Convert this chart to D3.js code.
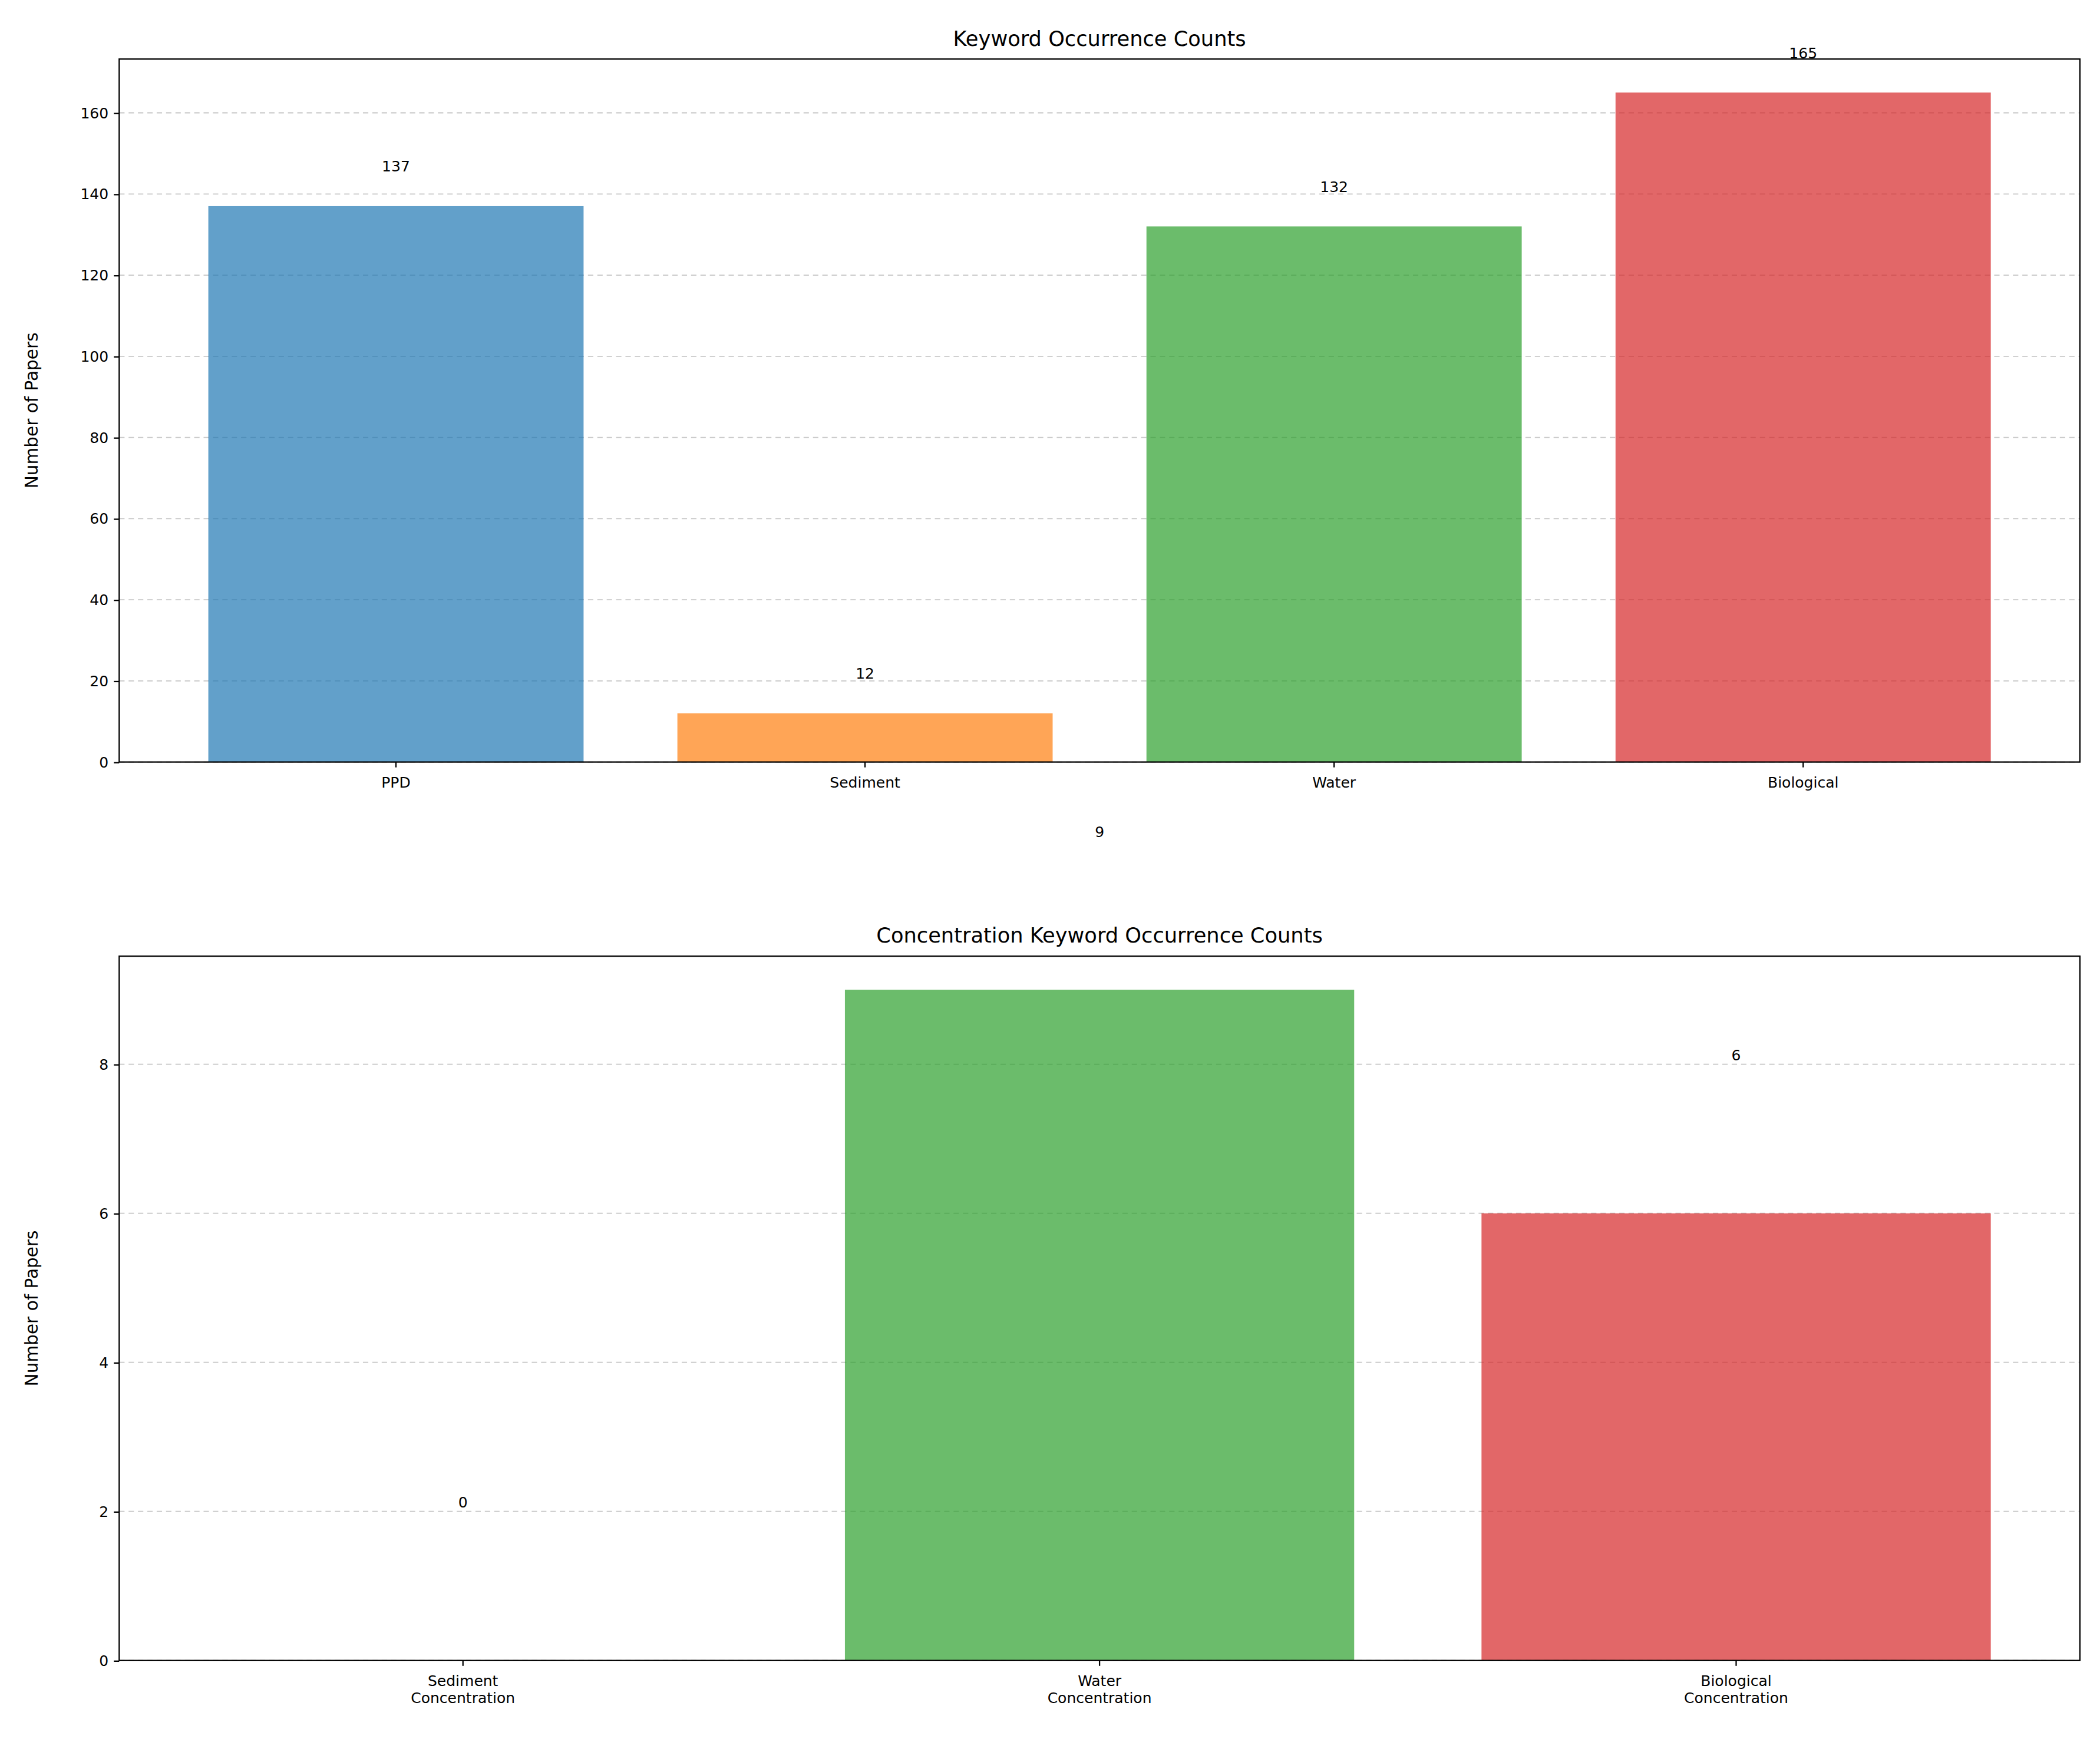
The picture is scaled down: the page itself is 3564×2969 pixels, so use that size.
<!DOCTYPE html>
<html>
<head>
<meta charset="UTF-8">
<script src="https://d3js.org/d3.v7.min.js"></script>
<style>
  body { margin: 0; background: #fff; }
  text { font-family: "DejaVu Sans", sans-serif; }
</style>
</head>
<body>
<div id="chart"></div>
<script>
// data
const topCats = ["PPD", "Sediment", "Water", "Biological"];
const topVals = [137, 12, 132, 165];
const topColors = ["#1f77b4", "#ff7f0e", "#2ca02c", "#d62728"];
const botCats = [["Sediment", "Concentration"], ["Water", "Concentration"], ["Biological", "Concentration"]];
const botVals = [0, 9, 6];
const botColors = ["#ff7f0e", "#2ca02c", "#d62728"];
const topTicks = [0, 20, 40, 60, 80, 100, 120, 140, 160];
const botTicks = [0, 2, 4, 6, 8];

const W = 1568, H = 1306;
const svg = d3.select("#chart").append("svg")
    .attr("width", 3564).attr("height", 2969)
    .attr("viewBox", `0 0 ${W} ${H}`);

const left = 89, right = 1553;

function panel(cats, vals, colors, ticks, y0, y1, title, yMax, labelOff) {
    const n = cats.length;
    const span = (n - 1 + 0.8);
    const x = d3.scaleLinear().domain([-0.4 - span * 0.05, n - 1 + 0.4 + span * 0.05]).range([left, right]);
    const y = d3.scaleLinear().domain([0, yMax]).range([y1, y0]);
    const g = svg.append("g");

    // grid
    g.selectAll(".grid").data(ticks).join("line")
        .attr("x1", left).attr("x2", right)
        .attr("y1", d => y(d)).attr("y2", d => y(d))
        .attr("stroke", "#b0b0b0").attr("stroke-width", 0.8)
        .attr("stroke-dasharray", "4,3").attr("opacity", 0.7);

    g.selectAll(".bar").data(vals).join("rect")
        .attr("x", (d, i) => x(i - 0.4))
        .attr("width", x(0.4) - x(-0.4))
        .attr("y", d => y(d))
        .attr("height", d => y1 - y(d))
        .attr("fill", (d, i) => colors[i])
        .attr("opacity", 0.7);

    g.selectAll(".val").data(vals).join("text")
        .attr("x", (d, i) => x(i))
        .attr("y", d => y(d + labelOff))
        .attr("text-anchor", "middle")
        .attr("font-size", 11)
        .text(d => d);

    g.append("rect").attr("x", left).attr("y", y0)
        .attr("width", right - left).attr("height", y1 - y0)
        .attr("fill", "none").attr("stroke", "#000").attr("stroke-width", 1);

    // y axis
    g.append("g").attr("transform", `translate(${left},0)`)
        .call(d3.axisLeft(y).tickValues(ticks).tickSize(4).tickPadding(4))
        .call(a => a.select(".domain").remove())
        .call(a => a.selectAll("text").attr("font-size", 11).attr("font-family", "DejaVu Sans"));

    // x axis
    const xa = g.append("g").attr("transform", `translate(0,${y1})`);
    cats.forEach((c, i) => {
        xa.append("line").attr("x1", x(i)).attr("x2", x(i)).attr("y1", 0).attr("y2", 4).attr("stroke", "#000");
        const lines = Array.isArray(c) ? c : [c];
        const t = xa.append("text").attr("text-anchor", "middle").attr("font-size", 11);
        lines.forEach((l, k) => t.append("tspan").attr("x", x(i)).attr("y", 19 + k * 13).text(l));
    });

    svg.append("text").attr("x", (left + right) / 2).attr("y", y0 - 10)
        .attr("text-anchor", "middle").attr("font-size", 15.5).text(title);
    svg.append("text")
        .attr("transform", `translate(28,${(y0 + y1) / 2}) rotate(-90)`)
        .attr("text-anchor", "middle").attr("font-size", 13).text("Number of Papers");
}

panel(topCats, topVals, topColors, topTicks, 44, 569, "Keyword Occurrence Counts", 173.25, 8.5);
panel(botCats, botVals, botColors, botTicks, 714, 1240, "Concentration Keyword Occurrence Counts", 9.45, 2.05);
</script>
</body>
</html>
